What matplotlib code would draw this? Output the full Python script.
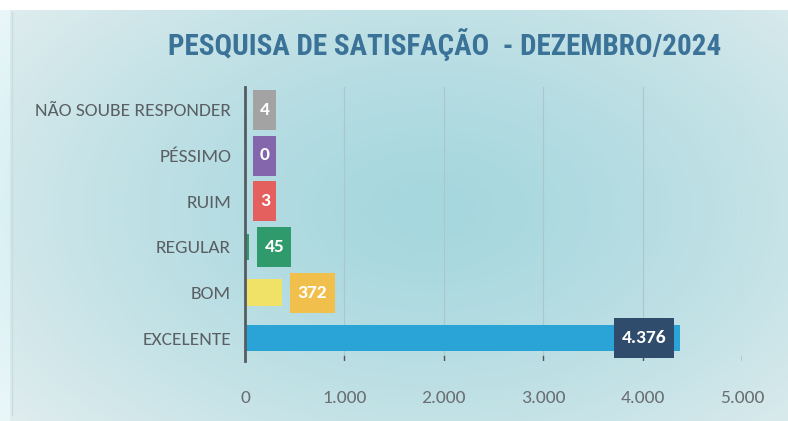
import numpy as np
import matplotlib.pyplot as plt
from matplotlib.patches import Rectangle

categorias = ["EXCELENTE", "BOM", "REGULAR", "RUIM", "PÉSSIMO", "NÃO SOUBE RESPONDER"]
valores = [4376, 372, 45, 3, 0, 4]
rotulos = ["4.376", "372", "45", "3", "0", "4"]
ticks = [0, 1000, 2000, 3000, 4000, 5000]
tick_labels = ["0", "1.000", "2.000", "3.000", "4.000", "5.000"]

cores_barra = ["#2aa4d6", "#f0e266", "#2f9a6c", "#e3605e", "#8466ad", "#a3a3a3"]
cores_rotulo = ["#2f4c6c", "#f1c04c", "#2f9a6c", "#e3605e", "#8466ad", "#a3a3a3"]

fonte = ["Carlito", "Lato", "DejaVu Sans"]
fonte_titulo = ["Roboto Condensed", "Archivo Narrow", "Barlow Condensed", "DejaVu Sans"]

W, H = 788, 421
fig = plt.figure(figsize=(W / 100, H / 100), dpi=100)

# fundo em degradê
bg = fig.add_axes([0, 0, 1, 1])
yy, xx = np.mgrid[0:H, 0:W]
d = np.sqrt(((xx - 430) / 520) ** 2 + ((yy - 210) / 330) ** 2)
d = np.clip(d, 0, 1)
c_centro = np.array([166, 215, 222]) / 255
c_borda = np.array([222, 236, 238]) / 255
img = c_centro + (c_borda - c_centro) * d[..., None] ** 1.4
img[:10, :, :] = 1.0
img[:, :10, :] = np.clip(img[:, :10, :] + 0.04, 0, 1)
bg.imshow(img, extent=[0, W, H, 0], aspect="auto")
bg.set_xlim(0, W)
bg.set_ylim(H, 0)
bg.axis("off")
bg.plot([12, 12], [12, 415], color="#c8dde0", lw=1)

x0, x1 = 245, 742
y_top, y_bot = 87, 361
ax = fig.add_axes([x0 / W, 1 - y_bot / H, (x1 - x0) / W, (y_bot - y_top) / H])
ax.set_facecolor("none")
ax.set_xlim(0, 5000)
ax.set_ylim(-0.5, 5.5)

px_x = 5000 / (x1 - x0)
px_y = 6 / (y_bot - y_top)

pos = np.arange(len(categorias))
ax.barh(pos, valores, height=0.57, color=cores_barra, zorder=2)

for i, (v, t) in enumerate(zip(valores, rotulos)):
    largura = (12 + sum(4 if ch == "." else 11 for ch in t)) * px_x
    altura = 40 * px_y
    if v > 3000:
        esq = v - 6 * px_x - largura
    else:
        esq = v + 8 * px_x
    ax.add_patch(Rectangle((esq, i - altura / 2), largura, altura,
                           facecolor=cores_rotulo[i], edgecolor="none", zorder=3, clip_on=False))
    ax.text(esq + largura / 2, i, t, ha="center", va="center", color="white",
            fontsize=14, family=fonte, fontweight="semibold", zorder=4)

for t in ticks[1:]:
    ax.axvline(t, color="#a9c7cc", lw=0.8, zorder=1)
    ax.plot([t, t], [-0.5, -0.38], color="#555555", lw=1, zorder=1)

for s in ["top", "right", "bottom"]:
    ax.spines[s].set_visible(False)
ax.spines["left"].set_color("#555d63")
ax.spines["left"].set_linewidth(2)

ax.set_yticks(pos)
ax.set_yticklabels(categorias, fontsize=14, family=fonte, color="#5a5f63")
ax.tick_params(axis="y", length=0, pad=10)
ax.set_xticks(ticks)
ax.set_xticklabels(tick_labels, fontsize=14, family=fonte, color="#6a6f73")
ax.tick_params(axis="x", length=0, pad=21)

fig.text(445 / W, 1 - 45 / H, "PESQUISA DE SATISFAÇÃO  - DEZEMBRO/2024", ha="center", va="center",
         fontsize=21, fontweight="bold", color="#3b7297", family=fonte_titulo)

fig.savefig("out.png", dpi=100)
